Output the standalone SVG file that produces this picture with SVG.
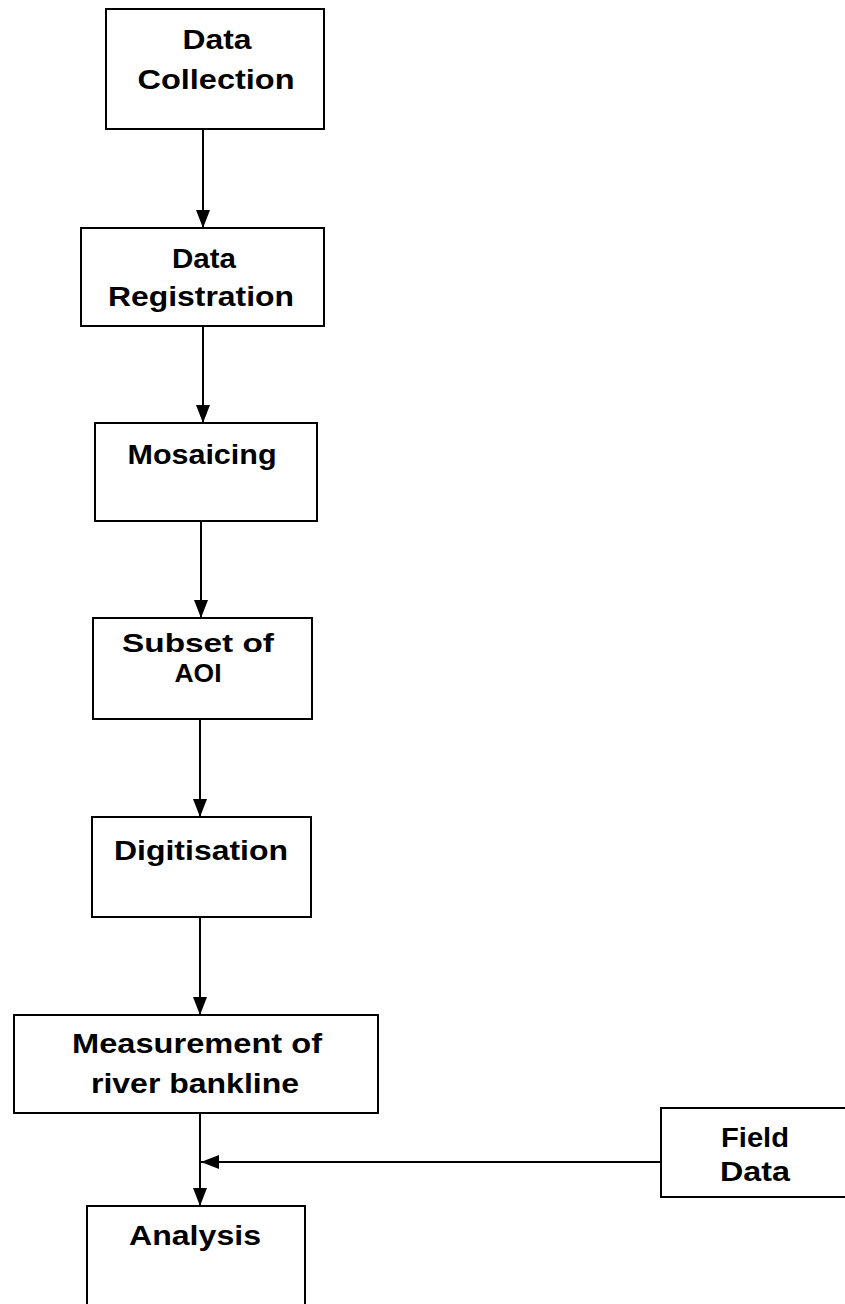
<svg xmlns="http://www.w3.org/2000/svg" width="845" height="1304" viewBox="0 0 845 1304">
<style>
.box{fill:#fff;stroke:#000;stroke-width:2}
.t{font-family:"Liberation Sans",Arial,sans-serif;font-weight:bold;font-size:27px;fill:#000;text-anchor:middle}
.s{font-size:25px}
.c{stroke:#000;stroke-width:2;fill:none;marker-end:url(#ah)}
</style>
<defs>
<marker id="ah" markerUnits="userSpaceOnUse" markerWidth="18" markerHeight="18" viewBox="0 0 18 18" refX="18" refY="9" orient="auto">
<path d="M0,2 L18,9 L0,16 Z" fill="#000"/>
</marker>
</defs>
<rect width="845" height="1304" fill="#fff"/>
<g id="connectors">
<line class="c" x1="203" y1="129" x2="203" y2="228"/>
<line class="c" x1="203" y1="326" x2="203" y2="423"/>
<line class="c" x1="201" y1="521" x2="201" y2="618"/>
<line class="c" x1="200" y1="719" x2="200" y2="817"/>
<line class="c" x1="200" y1="917" x2="200" y2="1015"/>
<line class="c" x1="200" y1="1113" x2="200" y2="1206"/>
<line class="c" x1="661" y1="1162" x2="201" y2="1162"/>
</g>
<g id="data-collection">
<rect class="box" x="106" y="9" width="218" height="120"/>
<text class="t" x="217" y="49" textLength="69" lengthAdjust="spacingAndGlyphs">Data</text>
<text class="t" x="216" y="89" textLength="157" lengthAdjust="spacingAndGlyphs">Collection</text>
</g>
<g id="data-registration">
<rect class="box" x="81" y="228" width="243" height="98"/>
<text class="t" x="204" y="268" textLength="64" lengthAdjust="spacingAndGlyphs">Data</text>
<text class="t" x="201" y="306" textLength="186" lengthAdjust="spacingAndGlyphs">Registration</text>
</g>
<g id="mosaicing">
<rect class="box" x="95" y="423" width="222" height="98"/>
<text class="t" x="202" y="464" textLength="149" lengthAdjust="spacingAndGlyphs">Mosaicing</text>
</g>
<g id="subset">
<rect class="box" x="93" y="618" width="219" height="101"/>
<text class="t s" x="198" y="652" textLength="152" lengthAdjust="spacingAndGlyphs">Subset of</text>
<text class="t s" x="198" y="682" textLength="47" lengthAdjust="spacingAndGlyphs">AOI</text>
</g>
<g id="digitisation">
<rect class="box" x="92" y="817" width="219" height="100"/>
<text class="t" x="201" y="860" textLength="174" lengthAdjust="spacingAndGlyphs">Digitisation</text>
</g>
<g id="measurement">
<rect class="box" x="14" y="1015" width="364" height="98"/>
<text class="t" x="197" y="1053" textLength="250" lengthAdjust="spacingAndGlyphs">Measurement of</text>
<text class="t" x="195" y="1093" textLength="208" lengthAdjust="spacingAndGlyphs">river bankline</text>
</g>
<g id="field-data">
<rect class="box" x="661" y="1108" width="190" height="89"/>
<text class="t" x="755" y="1147" textLength="68" lengthAdjust="spacingAndGlyphs">Field</text>
<text class="t" x="755" y="1181" textLength="70" lengthAdjust="spacingAndGlyphs">Data</text>
</g>
<g id="analysis">
<rect class="box" x="87" y="1206" width="218" height="110"/>
<text class="t" x="195" y="1245" textLength="132" lengthAdjust="spacingAndGlyphs">Analysis</text>
</g>
</svg>
